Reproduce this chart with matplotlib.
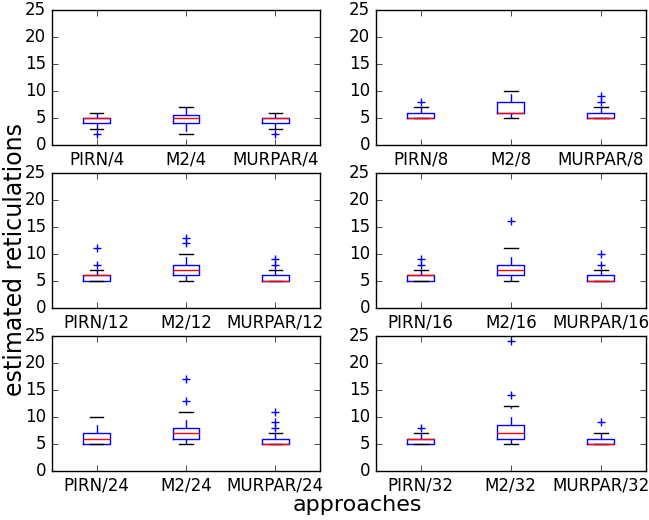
import matplotlib
matplotlib.use('Agg')
import matplotlib.pyplot as plt

plt.style.use('classic')
plt.rcParams['figure.facecolor'] = 'white'
plt.rcParams['savefig.facecolor'] = 'white'

# panel suffixes (number of ... per run)
panels = ['4', '8', '12', '16', '24', '32']
approaches = ['PIRN', 'M2', 'MURPAR']

# box statistics, one list per panel, order PIRN, M2, MURPAR
q1 = {'4': [4, 4, 4], '8': [5, 6, 5], '12': [5, 6, 5],
      '16': [5, 6, 5], '24': [5, 6, 5], '32': [5, 6, 5]}
med = {'4': [5, 5, 5], '8': [5, 6, 5], '12': [6, 7, 5],
       '16': [6, 7, 5], '24': [6, 7, 5], '32': [6, 7, 5]}
q3 = {'4': [5, 5.5, 5], '8': [6, 8, 6], '12': [6, 8, 6],
      '16': [6, 8, 6], '24': [7, 8, 6], '32': [6, 8.5, 6]}
whislo = {'4': [3, 2, 3], '8': [5, 5, 5], '12': [5, 5, 5],
          '16': [5, 5, 5], '24': [5, 5, 5], '32': [5, 5, 5]}
whishi = {'4': [6, 7, 6], '8': [7, 10, 7], '12': [7, 10, 7],
          '16': [7, 11, 7], '24': [10, 11, 7], '32': [7, 12, 7]}
fliers = {'4': [[2], [], [2]],
          '8': [[8], [], [8, 9]],
          '12': [[8, 11], [12, 13], [8, 9]],
          '16': [[8, 9], [16], [8, 10]],
          '24': [[], [13, 17], [8, 9, 11]],
          '32': [[8], [14, 24], [9]]}

fig = plt.figure(figsize=(6.49, 5.2), dpi=100)

lefts = [0.080, 0.579]
width_l = 0.413
width_r = 0.416
bottoms = [0.721, 0.408, 0.094]
height = 0.260

for i, p in enumerate(panels):
    row, col = divmod(i, 2)
    w = width_l if col == 0 else width_r
    ax = fig.add_axes([lefts[col], bottoms[row], w, height])
    stats = []
    for j, a in enumerate(approaches):
        stats.append({'label': '%s/%s' % (a, p),
                      'q1': q1[p][j], 'med': med[p][j], 'q3': q3[p][j],
                      'whislo': whislo[p][j], 'whishi': whishi[p][j],
                      'fliers': fliers[p][j]})
    ax.bxp(stats, widths=0.3, showfliers=True,
           flierprops=dict(marker='+', markeredgecolor='b', markersize=6,
                           linestyle='none'))
    ax.set_ylim(0, 25)
    ax.set_yticks([0, 5, 10, 15, 20, 25])
    ax.set_xlim(0.5, 3.5)
    ax.tick_params(labelsize=12)

fig.text(0.023, 0.50, 'estimated reticulations', rotation=90,
         ha='center', va='center', fontsize=17)
fig.text(0.55, 0.029, 'approaches', ha='center', va='center', fontsize=16)

fig.savefig('out.png', dpi=100)
